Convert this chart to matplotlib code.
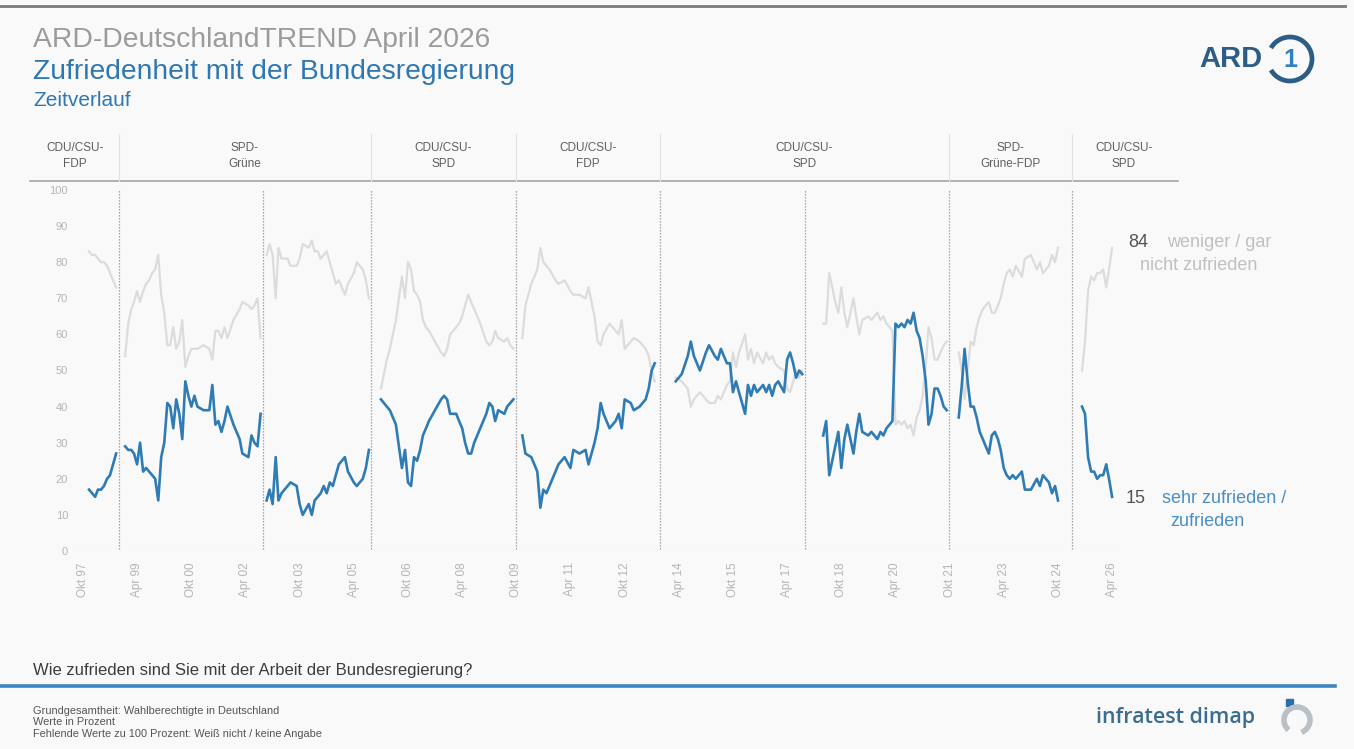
import numpy as np
import pandas as pd
import matplotlib
matplotlib.use('Agg')
import matplotlib.pyplot as plt
from matplotlib.patches import Arc, Rectangle

plt.rcParams['font.family'] = ['Liberation Sans', 'DejaVu Sans']

# Monatswerte in Prozent, je Regierung eine Zeile
monate = [
    '1997-12', '1998-01', '1998-02', '1998-03', '1998-04', '1998-05', '1998-06', '1998-07', '1998-08', '1998-09',
    '1998-12', '1999-01', '1999-02', '1999-03', '1999-04', '1999-05', '1999-06', '1999-07', '1999-08', '1999-09',
    '1999-10', '1999-11', '1999-12', '2000-01', '2000-02', '2000-03', '2000-04', '2000-05', '2000-06', '2000-07',
    '2000-08', '2000-09', '2000-10', '2000-11', '2000-12', '2001-02', '2001-04', '2001-05', '2001-06', '2001-07',
    '2001-08', '2001-09', '2001-10', '2001-12', '2002-02', '2002-03', '2002-05', '2002-06', '2002-07', '2002-08', '2002-09',
    '2002-11', '2002-12', '2003-01', '2003-02', '2003-03', '2003-04', '2003-05', '2003-06', '2003-07', '2003-09',
    '2003-10', '2003-11', '2004-01', '2004-02', '2004-03', '2004-04', '2004-05', '2004-06', '2004-07', '2004-08',
    '2004-09', '2004-10', '2004-11', '2005-01', '2005-02', '2005-04', '2005-05', '2005-07', '2005-08', '2005-09',
    '2006-01', '2006-03', '2006-04', '2006-06', '2006-07', '2006-08', '2006-09', '2006-10', '2006-11', '2006-12',
    '2007-01', '2007-02', '2007-03', '2007-04', '2007-05', '2007-07', '2007-09', '2007-10', '2007-11', '2007-12',
    '2008-02', '2008-03', '2008-04', '2008-05', '2008-06', '2008-07', '2008-08', '2008-10', '2008-12', '2009-01',
    '2009-02', '2009-03', '2009-04', '2009-06', '2009-07', '2009-08', '2009-09',
    '2009-12', '2010-01', '2010-03', '2010-04', '2010-05', '2010-06', '2010-07', '2010-08', '2010-09', '2010-11',
    '2010-12', '2011-02', '2011-04', '2011-05', '2011-07', '2011-09', '2011-10', '2011-12', '2012-01', '2012-02',
    '2012-03', '2012-05', '2012-07', '2012-08', '2012-09', '2012-10', '2012-12', '2013-01', '2013-03', '2013-05',
    '2013-06', '2013-07', '2013-08',
    '2014-03', '2014-05', '2014-07', '2014-08', '2014-09', '2014-11', '2015-01', '2015-02', '2015-04', '2015-05',
    '2015-06', '2015-08', '2015-09', '2015-10', '2015-11', '2015-12', '2016-02', '2016-03', '2016-04', '2016-05',
    '2016-06', '2016-08', '2016-09', '2016-10', '2016-11', '2016-12', '2017-01', '2017-03', '2017-04', '2017-05',
    '2017-06', '2017-07', '2017-08', '2017-09',
    '2018-04', '2018-05', '2018-06', '2018-08', '2018-09', '2018-10', '2018-11', '2018-12', '2019-01', '2019-02',
    '2019-03', '2019-04', '2019-05', '2019-07', '2019-08', '2019-10', '2019-11', '2019-12', '2020-01', '2020-02',
    '2020-03', '2020-04', '2020-05', '2020-06', '2020-07', '2020-08', '2020-09', '2020-10', '2020-11', '2020-12',
    '2021-01', '2021-02', '2021-03', '2021-04', '2021-05', '2021-06', '2021-07', '2021-08', '2021-09',
    '2022-01', '2022-02', '2022-03', '2022-04', '2022-05', '2022-06', '2022-07', '2022-08', '2022-09', '2022-10',
    '2022-11', '2022-12', '2023-01', '2023-02', '2023-03', '2023-04', '2023-05', '2023-06', '2023-07', '2023-08',
    '2023-10', '2023-11', '2024-01', '2024-03', '2024-04', '2024-05', '2024-06', '2024-07', '2024-08', '2024-09', '2024-10',
    '2025-06', '2025-07', '2025-08', '2025-09', '2025-10', '2025-11', '2025-12', '2026-01', '2026-02', '2026-03', '2026-04',
]

# sehr zufrieden / zufrieden
zufrieden = [
    17, 16, 15, 17, 17, 18, 20, 21, 24, 27,
    29, 28, 28, 27, 24, 30, 22, 23, 22, 21, 20, 14, 26, 30, 41, 40, 34, 42, 38, 31,
    47, 43, 40, 43, 40, 39, 39, 46, 35, 36, 33, 36, 40, 35, 31, 27, 26, 32, 30, 29, 38,
    14, 17, 13, 26, 14, 16, 17, 18, 19, 18, 13, 10, 13, 10, 14, 15, 16, 18, 16, 19,
    18, 21, 24, 26, 22, 19, 18, 20, 23, 28,
    42, 40, 39, 35, 29, 23, 28, 19, 18, 26, 25, 28, 32, 34, 36, 39, 42, 43, 42, 38,
    38, 36, 34, 30, 27, 27, 30, 34, 38, 41, 40, 36, 39, 38, 40, 41, 42,
    32, 27, 26, 24, 22, 12, 17, 16, 18, 22, 24, 26, 23, 28, 27, 28, 24, 30, 34, 41,
    38, 34, 36, 38, 34, 42, 41, 39, 40, 42, 45, 50, 52,
    47, 49, 54, 58, 54, 50, 55, 57, 54, 53, 56, 52, 52, 44, 47, 44, 38, 46, 43, 46,
    44, 46, 44, 46, 43, 46, 47, 44, 53, 55, 52, 48, 50, 49,
    32, 36, 21, 29, 33, 23, 31, 35, 31, 27, 33, 38, 33, 32, 33, 31, 33, 32, 34, 35,
    36, 63, 62, 63, 62, 64, 63, 66, 61, 59, 54, 47, 35, 38, 45, 45, 43, 40, 39,
    37, 46, 56, 47, 40, 40, 37, 33, 31, 29, 27, 32, 33, 31, 28, 23, 21, 20, 21, 20,
    22, 17, 17, 20, 18, 21, 20, 19, 16, 18, 14,
    40, 38, 26, 22, 22, 20, 21, 21, 24, 20, 15,
]

# weniger / gar nicht zufrieden
unzufrieden = [
    83, 82, 82, 81, 80, 80, 79, 77, 75, 73,
    54, 63, 67, 69, 72, 69, 72, 74, 75, 77, 78, 82, 71, 66, 57, 57, 62, 56, 58, 64,
    51, 54, 56, 56, 56, 57, 56, 53, 61, 61, 59, 62, 59, 64, 67, 69, 68, 67, 68, 70, 59,
    82, 85, 82, 70, 84, 81, 81, 81, 79, 79, 81, 85, 84, 86, 83, 83, 81, 82, 83, 80,
    77, 74, 75, 71, 74, 77, 80, 78, 75, 70,
    45, 53, 56, 64, 70, 76, 70, 80, 78, 72, 71, 69, 64, 62, 61, 58, 55, 54, 56, 60,
    62, 63, 65, 68, 71, 69, 67, 63, 58, 57, 58, 61, 59, 58, 59, 57, 56,
    59, 68, 74, 76, 78, 84, 80, 79, 78, 75, 74, 75, 72, 71, 71, 70, 73, 65, 58, 57,
    60, 63, 61, 60, 64, 56, 58, 59, 58, 56, 54, 50, 47,
    48, 47, 45, 40, 42, 44, 42, 41, 41, 43, 42, 46, 47, 55, 51, 55, 60, 53, 56, 52,
    55, 52, 55, 53, 54, 52, 51, 50, 45, 44, 47, 50, 48, 50,
    63, 63, 77, 69, 66, 73, 66, 62, 66, 70, 65, 60, 64, 65, 64, 66, 64, 65, 63, 62,
    61, 35, 36, 35, 36, 34, 35, 32, 37, 39, 43, 51, 62, 59, 53, 53, 55, 57, 58,
    55, 50, 42, 50, 58, 57, 62, 65, 67, 68, 69, 66, 66, 68, 70, 74, 77, 78, 76, 79,
    76, 81, 82, 78, 80, 77, 78, 79, 82, 80, 84,
    50, 58, 72, 76, 75, 77, 77, 78, 73, 78, 84,
]

wahltermine = ['1998-09-27', '2002-09-22', '2005-09-18', '2009-09-27',
               '2013-09-22', '2017-09-24', '2021-09-26', '2025-02-23']

koalitionen = ['CDU/CSU-\nFDP', 'SPD-\nGrüne', 'CDU/CSU-\nSPD', 'CDU/CSU-\nFDP',
               'CDU/CSU-\nSPD', 'SPD-\nGrüne-FDP', 'CDU/CSU-\nSPD']
koalition_grenzen = ['1996-05-01', '1998-09-27', '2005-09-18', '2009-09-27',
                     '2013-09-22', '2021-09-26', '2025-02-23', '2028-01-01']

tick_daten = ['1997-10', '1999-04', '2000-10', '2002-04', '2003-10', '2005-04', '2006-10',
              '2008-04', '2009-10', '2011-04', '2012-10', '2014-04', '2015-10', '2017-04',
              '2018-10', '2020-04', '2021-10', '2023-04', '2024-10', '2026-04']
tick_labels = ['Okt 97', 'Apr 99', 'Okt 00', 'Apr 02', 'Okt 03', 'Apr 05', 'Okt 06',
               'Apr 08', 'Okt 09', 'Apr 11', 'Okt 12', 'Apr 14', 'Okt 15', 'Apr 17',
               'Okt 18', 'Apr 20', 'Okt 21', 'Apr 23', 'Okt 24', 'Apr 26']

BLAU = '#2f7bb3'
GRAU = '#dcdcdc'

W, H = 1354, 749
fig = plt.figure(figsize=(W / 100, H / 100), dpi=100, facecolor='#f9f9f9')

# Hintergrund-Achse in Pixelkoordinaten fuer Rahmen, Titel und Logos
bg = fig.add_axes([0, 0, 1, 1])
bg.set_xlim(0, W)
bg.set_ylim(H, 0)
bg.axis('off')

ax = fig.add_axes([75 / W, (H - 551) / H, 1045 / W, 361 / H])
ax.set_facecolor('none')

d = pd.to_datetime(monate)
zuf = np.array(zufrieden, dtype=float)
unz = np.array(unzufrieden, dtype=float)
wahlen = pd.to_datetime(wahltermine)

# Linien je Legislaturperiode getrennt zeichnen
grenzen = [pd.Timestamp('1990-01-01')] + list(wahlen) + [pd.Timestamp('2030-01-01')]
for a, b in zip(grenzen[:-1], grenzen[1:]):
    m = (d > a) & (d < b)
    if m.sum() == 0:
        continue
    ax.plot(d[m], unz[m], color=GRAU, lw=1.6, solid_joinstyle='round', zorder=2)
    ax.plot(d[m], zuf[m], color=BLAU, lw=1.9, solid_joinstyle='round', zorder=3)

for w in wahlen:
    ax.axvline(w, ymin=-0.01, ymax=1.0, color='#8f8f8f', ls=(0, (1, 1.4)), lw=0.9, zorder=1)

ax.axhline(0, color='#e4e4e4', lw=0.8, ls=(0, (2, 3)), zorder=0)

ax.set_xlim(pd.Timestamp('1997-07-12'), pd.Timestamp('2026-06-20'))
ax.set_ylim(0, 100)
ax.set_yticks(range(0, 101, 10))
ax.tick_params(axis='y', length=0, pad=5, labelsize=8, labelcolor='#b5b5b5')
ax.set_xticks(pd.to_datetime(tick_daten))
ax.set_xticklabels(tick_labels, rotation=90)
ax.tick_params(axis='x', length=0, pad=8, labelsize=8.5, labelcolor='#b5b5b5')
for s in ax.spines.values():
    s.set_visible(False)

# Koalitionsleiste oben
trans = ax.get_xaxis_transform()
kg = pd.to_datetime(koalition_grenzen)
for g in kg[1:-1]:
    ax.plot([g, g], [1.025, 1.155], transform=trans, color='#e2e2e2', lw=0.8, clip_on=False)
for i, lab in enumerate(koalitionen):
    mitte = kg[i] + (kg[i + 1] - kg[i]) / 2
    ax.text(mitte, 1.094, lab, transform=trans, ha='center', va='center',
            fontsize=8.5, color='#5f5f5f', linespacing=1.35)
bg.plot([30, 1178], [181, 181], color='#a5a5a5', lw=1.2)

# Endwerte rechts
ax.annotate(f'{unzufrieden[-1]}', (d[-1], unz[-1]), xytext=(11.5, 3.6), textcoords='offset points',
            fontsize=13, color='#555555', va='center', ha='left', annotation_clip=False)
ax.annotate('weniger / gar', (d[-1], unz[-1]), xytext=(39.5, 3.6), textcoords='offset points',
            fontsize=13, color='#c0c0c0', va='center', ha='left', annotation_clip=False)
ax.annotate('nicht zufrieden', (d[-1], unz[-1]), xytext=(20, -12.5), textcoords='offset points',
            fontsize=13, color='#c0c0c0', va='center', ha='left', annotation_clip=False)
ax.annotate(f'{zufrieden[-1]}', (d[-1], zuf[-1]), xytext=(9.4, -1.4), textcoords='offset points',
            fontsize=13, color='#555555', va='center', ha='left', annotation_clip=False)
ax.annotate('sehr zufrieden /', (d[-1], zuf[-1]), xytext=(36, -1.4), textcoords='offset points',
            fontsize=13, color='#4a8fc4', va='center', ha='left', annotation_clip=False)
ax.annotate('zufrieden', (d[-1], zuf[-1]), xytext=(41.8, -18), textcoords='offset points',
            fontsize=13, color='#4a8fc4', va='center', ha='left', annotation_clip=False)

# Kopfzeile
bg.plot([0, 1345], [6, 6], color='#7a7a7a', lw=2)
bg.text(33, 40, 'ARD-DeutschlandTREND April 2026', fontsize=20.3, color='#9b9b9b', va='center', ha='left')
bg.text(33, 72, 'Zufriedenheit mit der Bundesregierung', fontsize=20.3, color='#2f77b0', va='center', ha='left')
bg.text(33, 101, 'Zeitverlauf', fontsize=15, color='#2f77b0', va='center', ha='left')

# ARD-Logo (vereinfacht)
bg.text(1262, 59, 'ARD', fontsize=21, fontweight='bold', color='#2c5d86', va='center', ha='right')
bg.add_patch(Arc((1290, 59), 44, 44, theta1=-150, theta2=150, color='#2c5d86', lw=3.4))
bg.text(1290, 60, '1', fontsize=18, fontweight='bold', color='#2f7fc1', va='center', ha='center')

# Fusszeile
bg.text(33, 670, 'Wie zufrieden sind Sie mit der Arbeit der Bundesregierung?', fontsize=12,
        color='#3c3c3c', va='center', ha='left')
bg.plot([0, 1335], [686, 686], color='#3a86c2', lw=2.6)
bg.text(33, 711, 'Grundgesamtheit: Wahlberechtigte in Deutschland', fontsize=7.9, color='#555555', va='center')
bg.text(33, 722, 'Werte in Prozent', fontsize=7.9, color='#555555', va='center')
bg.text(33, 734, 'Fehlende Werte zu 100 Prozent: Weiß nicht / keine Angabe', fontsize=7.9,
        color='#555555', va='center')

bg.text(1255, 718, 'infratest dimap', fontsize=15.4, fontweight='semibold', color='#3b6d8f',
        va='center', ha='right', family=['Open Sans', 'DejaVu Sans'])
bg.add_patch(Rectangle((1286, 699), 7, 7, color='#2d6ea8'))
bg.add_patch(Arc((1297, 720), 26, 26, theta1=-230, theta2=70, color='#b9c0c6', lw=4))

fig.savefig('out.png', dpi=100, facecolor=fig.get_facecolor())
